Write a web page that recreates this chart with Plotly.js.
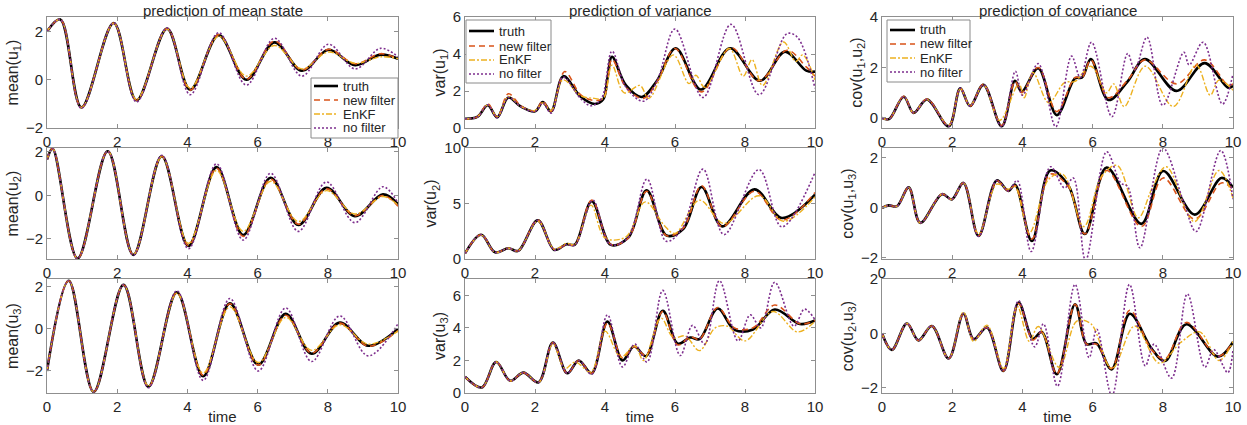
<!DOCTYPE html>
<html>
<head>
<meta charset="utf-8">
<script src="https://cdn.plot.ly/plotly-3.0.1.min.js"></script>
<style>html,body{margin:0;padding:0;background:#fff;}#chart{width:1247px;height:425px;}</style>
</head>
<body>
<div id="chart"></div>
<script>
// ---------- data ----------
const seriesNames = ['truth', 'new filter', 'EnKF', 'no filter'];
const columnTitles = ['prediction of mean state', 'prediction of variance', 'prediction of covariance'];
const yLabels = ['mean(u<sub>1</sub>)', 'var(u<sub>1</sub>)', 'cov(u<sub>1</sub>,u<sub>2</sub>)',
                 'mean(u<sub>2</sub>)', 'var(u<sub>2</sub>)', 'cov(u<sub>1</sub>,u<sub>3</sub>)',
                 'mean(u<sub>3</sub>)', 'var(u<sub>3</sub>)', 'cov(u<sub>2</sub>,u<sub>3</sub>)'];
const xTitle = 'time';

// mean(u1)
const m1_t = [0, 0.38, 0.98, 1.9, 2.55, 3.42, 4.08, 4.89, 5.68, 6.48, 7.26, 8.02, 8.78, 9.5, 10];
const m1_truth = [2.0, 2.5, -1.15, 2.35, -0.85, 2.12, -0.42, 1.85, 0.0, 1.55, 0.37, 1.24, 0.6, 1.04, 0.87];
const m1_new   = [2.0, 2.5, -1.15, 2.35, -0.85, 2.12, -0.43, 1.87, 0.02, 1.6, 0.4, 1.26, 0.66, 1.08, 0.87];
const m1_enkf  = [2.0, 2.5, -1.15, 2.33, -0.82, 2.1, -0.35, 1.8, 0.15, 1.42, 0.45, 1.15, 0.68, 0.95, 0.88];
const m1_nof   = [2.0, 2.5, -1.18, 2.35, -0.92, 2.14, -0.62, 1.95, -0.22, 1.72, 0.15, 1.47, 0.45, 1.3, 0.95];

// mean(u2)
const m2_t = [0, 0.16, 0.87, 1.73, 2.46, 3.27, 4.03, 4.83, 5.59, 6.37, 7.16, 7.96, 8.77, 9.57, 10];
const m2_truth = [1.65, 2.15, -2.9, 2.03, -2.73, 1.8, -2.32, 1.3, -1.82, 0.81, -1.36, 0.35, -0.95, 0.05, -0.4];
const m2_new   = [1.65, 2.15, -2.9, 2.03, -2.73, 1.8, -2.3, 1.25, -1.88, 0.75, -1.32, 0.3, -0.93, 0.0, -0.5];
const m2_enkf  = [1.65, 2.15, -2.9, 2.03, -2.72, 1.78, -2.2, 1.15, -1.65, 0.65, -1.2, 0.22, -0.85, -0.05, -0.45];
const m2_nof   = [1.65, 2.15, -2.9, 2.03, -2.75, 1.85, -2.45, 1.45, -2.05, 1.02, -1.65, 0.62, -1.25, 0.4, -0.35];

// mean(u3)
const m3_t = [0, 0.62, 1.33, 2.18, 2.89, 3.7, 4.45, 5.21, 6.02, 6.8, 7.54, 8.34, 9.15, 10];
const m3_truth = [-2.0, 2.3, -3.0, 2.1, -2.75, 1.75, -2.25, 1.22, -1.7, 0.72, -1.18, 0.3, -0.8, 0.0];
const m3_new   = [-2.0, 2.3, -3.0, 2.1, -2.75, 1.74, -2.2, 1.2, -1.72, 0.65, -1.15, 0.28, -0.82, -0.08];
const m3_enkf  = [-2.0, 2.3, -3.0, 2.1, -2.72, 1.7, -2.1, 1.05, -1.6, 0.55, -1.02, 0.2, -0.72, -0.1];
const m3_nof   = [-2.0, 2.3, -3.0, 2.1, -2.8, 1.82, -2.45, 1.45, -2.0, 1.0, -1.55, 0.62, -1.28, 0.25];

// var(u1)
const v1_truth_t = [0, 0.35, 0.65, 0.92, 1.24, 1.6, 2.0, 2.22, 2.46, 2.81, 3.3, 3.71, 3.95, 4.07, 4.2, 4.6, 5.05, 5.5, 6.02, 6.74, 7.57, 8.43, 9.14, 9.75, 10];
const v1_truth   = [0.5, 0.6, 1.23, 0.58, 1.65, 1.15, 0.9, 1.4, 0.9, 2.8, 1.7, 1.3, 1.55, 2.7, 3.85, 2.3, 1.68, 2.6, 4.31, 2.08, 4.31, 2.55, 4.13, 3.1, 3.05];
const v1_new_t = [0, 0.35, 0.65, 0.92, 1.24, 1.6, 2.0, 2.22, 2.46, 2.85, 3.3, 3.65, 3.95, 4.2, 4.6, 5.1, 5.5, 6.0, 6.75, 7.6, 8.4, 9.2, 9.75, 10];
const v1_new   = [0.5, 0.6, 1.3, 0.6, 1.85, 1.2, 0.92, 1.45, 0.9, 3.05, 1.8, 1.5, 1.6, 3.7, 2.2, 1.6, 2.55, 4.3, 1.95, 4.35, 2.55, 4.2, 3.3, 2.8];
const v1_enkf_t = [0, 0.35, 0.65, 0.92, 1.24, 1.6, 2.0, 2.22, 2.46, 2.8, 3.3, 3.7, 3.95, 4.2, 4.55, 5.0, 5.25, 5.95, 6.4, 6.6, 6.85, 7.55, 7.95, 8.2, 8.5, 9.1, 9.45, 9.65, 10];
const v1_enkf   = [0.5, 0.6, 1.25, 0.6, 1.7, 1.15, 0.95, 1.35, 0.95, 2.6, 1.75, 1.6, 1.6, 3.4, 1.9, 2.3, 1.6, 3.95, 2.4, 2.85, 2.2, 4.3, 2.8, 3.7, 2.3, 4.65, 3.6, 3.95, 2.6];
const v1_nof_t = [0, 0.35, 0.65, 0.92, 1.24, 1.6, 2.0, 2.22, 2.46, 2.8, 3.3, 3.6, 3.9, 4.2, 4.6, 5.1, 5.5, 6.0, 6.8, 7.6, 8.4, 9.2, 9.5, 10];
const v1_nof   = [0.5, 0.6, 1.25, 0.55, 1.65, 1.15, 0.9, 1.35, 0.8, 2.75, 1.6, 1.2, 1.6, 4.15, 2.2, 1.45, 2.6, 5.35, 1.65, 5.6, 1.8, 5.1, 4.9, 2.15];

// var(u2)
const v2_t = [0, 0.46, 0.86, 1.24, 1.52, 2.08, 2.55, 2.9, 3.14, 3.62, 4.17, 4.67, 5.19, 5.76, 6.24, 6.76, 7.35, 8.27, 9.05, 10];
const v2_truth = [0.5, 2.18, 0.6, 0.97, 0.73, 3.48, 0.82, 1.33, 1.3, 5.2, 1.27, 1.94, 6.18, 2.12, 2.73, 6.48, 2.94, 6.27, 3.7, 5.8];
const v2_new   = [0.5, 2.2, 0.6, 0.97, 0.75, 3.5, 0.85, 1.3, 1.3, 5.3, 1.3, 1.9, 6.1, 2.1, 2.8, 6.6, 2.9, 6.1, 3.5, 6.0];
const v2_enkf_t = [0, 0.46, 0.86, 1.24, 1.52, 2.08, 2.55, 2.9, 3.14, 3.6, 4.0, 4.6, 5.15, 5.7, 6.0, 6.7, 7.4, 8.4, 9.1, 10];
const v2_enkf   = [0.5, 2.15, 0.6, 0.97, 0.75, 3.4, 0.9, 1.4, 1.3, 4.85, 1.9, 2.0, 5.15, 3.0, 2.3, 5.3, 3.2, 5.7, 3.4, 5.6];
const v2_nof_t = [0, 0.46, 0.86, 1.24, 1.52, 2.08, 2.55, 2.9, 3.14, 3.65, 4.15, 4.65, 5.2, 5.75, 6.2, 6.8, 7.4, 8.4, 9.05, 10];
const v2_nof   = [0.5, 2.18, 0.6, 0.97, 0.73, 3.48, 0.82, 1.3, 1.25, 5.3, 1.3, 1.9, 7.2, 1.6, 2.7, 8.1, 2.2, 8.05, 2.9, 7.8];

// var(u3)
const v3_t = [0, 0.48, 0.89, 1.29, 1.67, 2.1, 2.51, 2.92, 3.25, 3.62, 4.07, 4.5, 4.83, 5.17, 5.65, 6.08, 6.44, 6.7, 7.22, 7.7, 8.23, 8.85, 9.57, 10];
const v3_truth = [1.0, 0.34, 1.9, 0.75, 1.25, 0.65, 3.1, 1.21, 2.0, 1.21, 4.38, 2.0, 2.87, 2.26, 5.05, 3.03, 3.41, 3.31, 5.19, 3.88, 3.9, 5.13, 4.24, 4.45];
const v3_new   = [1.0, 0.34, 1.9, 0.75, 1.25, 0.65, 3.1, 1.21, 2.0, 1.21, 4.3, 2.15, 2.85, 2.3, 5.0, 2.95, 3.45, 3.3, 5.25, 4.0, 4.0, 5.4, 4.25, 4.45];
const v3_enkf_t = [0, 0.48, 0.89, 1.29, 1.67, 2.1, 2.51, 2.85, 3.15, 3.6, 4.0, 4.45, 4.85, 5.1, 5.6, 5.95, 6.3, 6.7, 7.15, 7.5, 8.0, 8.8, 9.5, 10];
const v3_enkf   = [1.0, 0.34, 1.9, 0.75, 1.25, 0.65, 3.0, 1.5, 1.9, 1.3, 3.8, 2.2, 2.9, 2.0, 4.6, 3.4, 3.5, 2.6, 4.0, 4.1, 3.2, 5.0, 3.75, 4.4];
const v3_nof_t = [0, 0.48, 0.89, 1.29, 1.67, 2.1, 2.51, 2.92, 3.25, 3.62, 4.07, 4.5, 4.85, 5.2, 5.65, 6.15, 6.5, 6.85, 7.27, 7.8, 8.15, 8.45, 8.85, 9.4, 9.7, 10];
const v3_nof   = [1.0, 0.34, 1.9, 0.75, 1.25, 0.65, 3.1, 1.21, 2.0, 1.15, 4.8, 1.6, 3.0, 1.9, 6.3, 2.3, 4.15, 3.0, 6.9, 3.2, 4.8, 4.0, 6.8, 4.1, 5.15, 4.5];

// cov(u1,u2)
const c12_t = [0, 0.2, 0.62, 0.9, 1.28, 1.9, 2.23, 2.51, 2.89, 3.41, 3.79, 3.98, 4.45, 4.98, 5.5, 5.7, 5.95, 6.45, 7.0, 7.49, 8.39, 9.19, 9.86, 10];
const c12_truth = [0, -0.05, 0.84, 0.2, 0.73, -0.33, 1.17, 0.47, 1.31, -0.33, 1.47, 1.04, 1.97, 0.11, 1.57, 1.6, 2.33, 0.71, 1.45, 2.33, 1.07, 2.17, 1.2, 1.27];
const c12_new   = [0, -0.05, 0.86, 0.2, 0.75, -0.3, 1.17, 0.47, 1.33, -0.3, 1.45, 1.0, 2.0, 0.25, 1.6, 1.6, 2.3, 0.8, 1.5, 2.3, 1.35, 2.3, 1.3, 1.35];
const c12_enkf_t = [0, 0.2, 0.62, 0.9, 1.28, 1.9, 2.23, 2.51, 2.89, 3.35, 3.9, 4.05, 4.3, 4.75, 5.2, 5.5, 5.95, 6.4, 6.6, 6.9, 7.5, 8.3, 8.95, 9.35, 9.6, 10];
const c12_enkf   = [0, -0.05, 0.84, 0.2, 0.73, -0.3, 1.15, 0.5, 1.3, -0.1, 1.35, 0.8, 1.8, 0.6, 1.4, 1.45, 2.05, 1.0, 1.35, 0.45, 2.05, 0.45, 2.1, 0.9, 1.5, 1.1];
const c12_nof_t = [0, 0.2, 0.62, 0.9, 1.28, 1.9, 2.23, 2.51, 2.89, 3.41, 3.8, 4.0, 4.45, 4.95, 5.4, 5.65, 5.97, 6.55, 7.0, 7.2, 7.55, 8.0, 8.6, 8.75, 9.15, 9.7, 10];
const c12_nof   = [0, -0.05, 0.84, 0.2, 0.73, -0.33, 1.17, 0.47, 1.31, -0.35, 1.85, 0.9, 2.15, -0.35, 2.45, 1.6, 3.0, 0.05, 2.55, 1.9, 3.2, 0.5, 2.6, 2.1, 3.0, 0.55, 1.75];

// cov(u1,u3)
const c13_t = [0, 0.19, 0.43, 0.76, 1.09, 1.71, 1.99, 2.32, 2.75, 3.27, 3.6, 3.79, 4.27, 4.79, 5.31, 5.78, 6.4, 7.39, 8.01, 8.91, 9.67, 10];
const c13_truth = [0, 0.1, 0.07, 0.82, -0.6, 0.55, 0.34, 1.0, -1.12, 1.1, 0.68, 0.93, -1.33, 1.5, 0.9, -1.05, 1.62, -0.64, 1.48, -0.27, 1.2, 0.82];
const c13_new   = [0, 0.1, 0.07, 0.82, -0.6, 0.55, 0.34, 1.0, -1.12, 1.08, 0.68, 0.9, -1.25, 1.35, 0.85, -1.05, 1.5, -0.75, 1.2, -0.45, 1.0, 0.75];
const c13_enkf_t = [0, 0.19, 0.43, 0.76, 1.09, 1.71, 1.99, 2.32, 2.75, 3.27, 3.6, 3.79, 4.2, 4.75, 5.15, 5.75, 6.25, 6.7, 7.3, 7.7, 8.1, 8.9, 9.6, 10];
const c13_enkf   = [0, 0.1, 0.07, 0.82, -0.6, 0.55, 0.34, 1.0, -1.05, 0.95, 0.75, 0.85, -1.0, 1.15, 1.35, -0.75, 1.25, 1.7, -0.4, 0.8, 1.65, -0.55, 1.5, 0.4];
const c13_nof_t = [0, 0.19, 0.43, 0.76, 1.09, 1.71, 1.99, 2.32, 2.75, 3.27, 3.6, 3.85, 4.25, 4.8, 5.2, 5.45, 5.8, 6.4, 6.8, 7.0, 7.35, 8.0, 8.6, 8.95, 9.65, 10];
const c13_nof   = [0, 0.1, 0.07, 0.82, -0.6, 0.55, 0.34, 1.0, -1.15, 1.1, 0.68, 1.1, -1.75, 1.65, 0.8, 1.2, -2.1, 2.25, 1.0, 0.85, -1.6, 2.4, 0.2, -0.95, 2.3, 0.35];

// cov(u2,u3)
const c23_t = [0, 0.28, 0.71, 1.04, 1.42, 1.9, 2.32, 2.61, 2.99, 3.46, 3.89, 4.3, 4.55, 4.98, 5.5, 5.83, 6.11, 6.54, 7.06, 7.68, 8.06, 8.67, 9.57, 10];
const c23_truth = [0, -0.61, 0.36, -0.26, 0.27, -0.93, 0.72, -0.22, 0.21, -1.39, 1.13, -0.2, 0.05, -1.51, 1.07, -0.4, -0.37, -1.33, 0.72, -0.56, -1.02, 0.33, -0.86, -0.32];
const c23_new   = [0, -0.61, 0.36, -0.26, 0.27, -0.93, 0.72, -0.22, 0.21, -1.39, 1.1, -0.25, 0.05, -1.5, 1.07, -0.4, -0.4, -1.3, 0.85, -0.6, -0.95, 0.4, -0.85, -0.32];
const c23_enkf_t = [0, 0.28, 0.71, 1.04, 1.42, 1.9, 2.32, 2.61, 2.99, 3.46, 3.85, 4.2, 4.45, 5.05, 5.55, 5.95, 6.55, 7.2, 7.9, 8.5, 9.05, 9.6, 10];
const c23_enkf   = [0, -0.61, 0.36, -0.26, 0.27, -0.93, 0.78, -0.3, 0.3, -1.3, 1.0, -0.3, 0.25, -1.25, 0.45, 0.35, -1.3, 0.27, -1.1, -0.35, 0.05, -1.0, -0.3];
const c23_nof_t = [0, 0.28, 0.71, 1.04, 1.42, 1.9, 2.32, 2.61, 2.99, 3.46, 3.89, 4.35, 4.6, 5.0, 5.5, 5.9, 6.12, 6.55, 7.05, 7.5, 7.75, 8.25, 8.7, 9.2, 9.45, 9.85, 10];
const c23_nof   = [0, -0.61, 0.36, -0.26, 0.27, -0.93, 0.72, -0.22, 0.21, -1.39, 1.2, -0.5, 0.35, -1.95, 1.8, -0.9, 0.15, -2.3, 1.8, -1.2, -0.4, -1.65, 1.45, -1.25, -0.6, -1.45, -0.6];

// ---------- styling ----------
const FONT = 'Liberation Sans, Arial, Helvetica, sans-serif';
const TXT = '#262626';
const AX = '#8f8f8f';
const styles = [
  {color: '#000000', width: 2.6, dash: 'solid'},
  {color: '#D95319', width: 1.6, dash: '6px,4px'},
  {color: '#EDB120', width: 1.4, dash: '6px,2px,2px,2px'},
  {color: '#7E2F8E', width: 1.6, dash: '2px,2px'}
];

const panels = [
  {s: [[m1_t, m1_truth], [m1_t, m1_new], [m1_t, m1_enkf], [m1_t, m1_nof]], yr: [-2, 2.6], dt: 2},
  {s: [[v1_truth_t, v1_truth], [v1_new_t, v1_new], [v1_enkf_t, v1_enkf], [v1_nof_t, v1_nof]], yr: [0, 6], dt: 2},
  {s: [[c12_t, c12_truth], [c12_t, c12_new], [c12_enkf_t, c12_enkf], [c12_nof_t, c12_nof]], yr: [-0.4, 4], dt: 2},
  {s: [[m2_t, m2_truth], [m2_t, m2_new], [m2_t, m2_enkf], [m2_t, m2_nof]], yr: [-2.92, 2.18], dt: 2},
  {s: [[v2_t, v2_truth], [v2_t, v2_new], [v2_enkf_t, v2_enkf], [v2_nof_t, v2_nof]], yr: [0, 10], dt: 5},
  {s: [[c13_t, c13_truth], [c13_t, c13_new], [c13_enkf_t, c13_enkf], [c13_nof_t, c13_nof]], yr: [-2.05, 2.4], dt: 2},
  {s: [[m3_t, m3_truth], [m3_t, m3_new], [m3_t, m3_enkf], [m3_t, m3_nof]], yr: [-3.05, 2.38], dt: 2},
  {s: [[v3_t, v3_truth], [v3_t, v3_new], [v3_enkf_t, v3_enkf], [v3_nof_t, v3_nof]], yr: [0, 7], dt: 2},
  {s: [[c23_t, c23_truth], [c23_t, c23_new], [c23_enkf_t, c23_enkf], [c23_nof_t, c23_nof]], yr: [-2.2, 2], dt: 2}
];

const W = 1247, H = 425;
const colPx = [[47, 398], [465, 815], [882, 1233]];
const rowPx = [[17, 128], [148, 259], [279, 393]];

const data = [];
const layout = {
  width: W, height: H,
  margin: {l: 0, r: 0, t: 0, b: 0},
  paper_bgcolor: '#fff', plot_bgcolor: '#fff',
  font: {family: FONT, color: TXT, size: 13},
  annotations: [], shapes: [],
  showlegend: false
};

panels.forEach((p, i) => {
  const row = Math.floor(i / 3), col = i % 3;
  const n = i + 1;
  const xk = n === 1 ? 'xaxis' : 'xaxis' + n;
  const yk = n === 1 ? 'yaxis' : 'yaxis' + n;
  const xr = n === 1 ? 'x' : 'x' + n;
  const yr = n === 1 ? 'y' : 'y' + n;
  layout[xk] = {
    domain: [colPx[col][0] / W, colPx[col][1] / W], anchor: yr,
    range: [0, 10], tick0: 0, dtick: 2,
    ticks: 'inside', ticklen: 4, tickcolor: AX, showline: true, linecolor: AX, linewidth: 1,
    mirror: 'ticks', showgrid: false, zeroline: false,
    tickfont: {size: 15, color: TXT, family: FONT}
  };
  if (row === 2) layout[xk].title = {text: xTitle, font: {size: 15, color: TXT, family: FONT}, standoff: 0};
  layout[yk] = {
    domain: [1 - rowPx[row][1] / H, 1 - rowPx[row][0] / H], anchor: xr,
    range: p.yr, tick0: 0, dtick: p.dt,
    ticks: 'inside', ticklen: 4, tickcolor: AX, showline: true, linecolor: AX, linewidth: 1,
    mirror: 'ticks', showgrid: false, zeroline: false,
    tickfont: {size: 15, color: TXT, family: FONT},
    title: {text: yLabels[i], font: {size: 16, color: TXT, family: FONT}, standoff: 3}
  };
  p.s.forEach((pair, k) => {
    data.push({
      type: 'scatter', mode: 'lines',
      x: pair[0], y: pair[1],
      xaxis: xr, yaxis: yr,
      name: seriesNames[k],
      showlegend: false,
      line: {color: styles[k].color, width: styles[k].width, dash: styles[k].dash, shape: 'spline', smoothing: 1},
      hoverinfo: 'skip'
    });
  });
});

// legend boxes (one per top panel), in pixel positions
const legendBoxes = [
  {x0: 311, x1: 398, y0: 78, y1: 138, lx0: 314, lx1: 338, tx: 341, rows: [86, 100, 114, 128]},
  {x0: 466, x1: 551, y0: 20, y1: 83, lx0: 469, lx1: 494, tx: 497, rows: [31, 46, 60, 74]},
  {x0: 887, x1: 970, y0: 20, y1: 82, lx0: 890, lx1: 915, tx: 918, rows: [30, 44, 58, 72]}
];
const px = v => v / W, py = v => 1 - v / H;
legendBoxes.forEach(b => {
  layout.shapes.push({type: 'rect', xref: 'paper', yref: 'paper', layer: 'above',
    x0: px(b.x0), x1: px(b.x1), y0: py(b.y1), y1: py(b.y0),
    fillcolor: '#ffffff', line: {color: '#8a8a8a', width: 1}});
  seriesNames.forEach((nm, k) => {
    layout.shapes.push({type: 'line', xref: 'paper', yref: 'paper', layer: 'above',
      x0: px(b.lx0), x1: px(b.lx1), y0: py(b.rows[k]), y1: py(b.rows[k]),
      line: {color: styles[k].color, width: styles[k].width, dash: styles[k].dash}});
    layout.annotations.push({text: nm, xref: 'paper', yref: 'paper', showarrow: false,
      x: px(b.tx), y: py(b.rows[k]), xanchor: 'left', yanchor: 'middle',
      font: {size: 13, color: TXT, family: FONT}});
  });
});

columnTitles.forEach((t, c) => {
  layout.annotations.push({
    text: t, xref: 'paper', yref: 'paper',
    x: (colPx[c][0] + colPx[c][1]) / 2 / W, y: 1,
    xanchor: 'center', yanchor: 'top', showarrow: false,
    font: {size: 15, color: TXT, family: FONT}
  });
});

Plotly.newPlot('chart', data, layout, {staticPlot: true, displayModeBar: false});
</script>
</body>
</html>
